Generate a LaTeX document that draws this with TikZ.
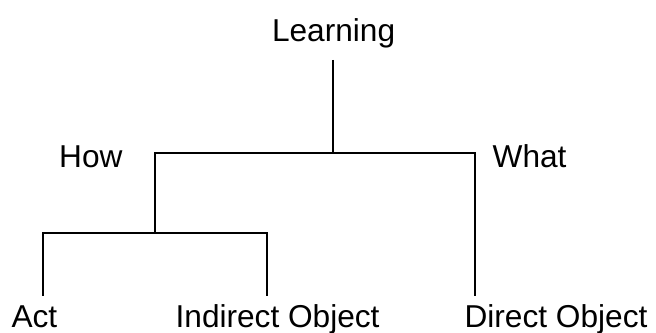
\documentclass[tikz,border=0pt]{standalone}
\usepackage{fontspec}
\setmainfont{Liberation Sans}
\usepackage{tikz}
\usetikzlibrary{calc,positioning}

\begin{document}
\begin{tikzpicture}[branch/.style={line width=1.4pt},
		word/.style={inner sep=0pt,anchor=base,font=\fontsize{22.5}{27}\selectfont}]
			\useasboundingbox (0,0) rectangle (16.4,8.325);
								\node[word] (learning) at (8.34,7.275) {Learning};
								\node[word] (how) at (2.27,4.14) {How};
								\node[word] (what) at (13.24,4.14) {What};
								\node[word] (act) at (0.86,0.125) {Act};
								\node[word] (indirect) at (6.94,0.125) {Indirect Object};
								\node[word] (direct) at (13.9,0.125) {Direct Object};
								
								\coordinate (top) at (8.325,6.825); \coordinate (mid) at (8.325,4.5);
								\coordinate (howJ) at (3.875,4.5); \coordinate (whatJ) at (11.875,4.5);
								\coordinate (lowJ) at (3.875,2.5);
								\coordinate (actJ) at (1.075,2.5); \coordinate (indJ) at (6.675,2.5);
								\coordinate (actEnd) at (1.075,0.925); \coordinate (indEnd) at (6.675,0.925); \coordinate (dirEnd) at (11.875,0.925);
								
								\draw[branch] (top) -- (mid);
								\draw[branch] (dirEnd) -- (whatJ) -- (howJ) -- (lowJ);
								\draw[branch] (actEnd) -- (actJ) -- (indJ) -- (indEnd);
							\end{tikzpicture}
\end{document}
